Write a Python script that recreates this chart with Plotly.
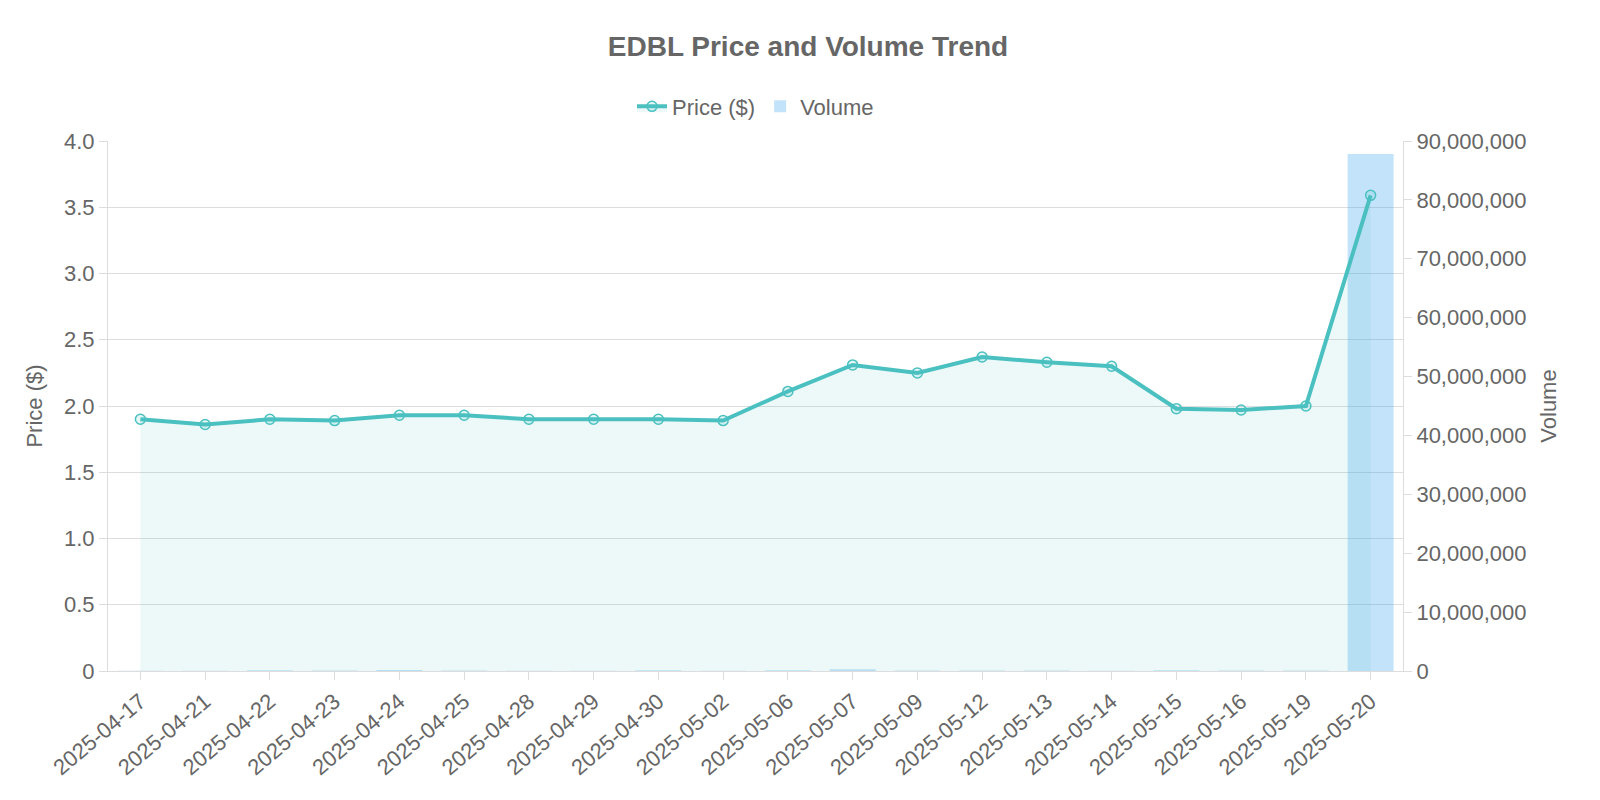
import plotly.graph_objects as go

dates = ["2025-04-17","2025-04-21","2025-04-22","2025-04-23","2025-04-24","2025-04-25","2025-04-28","2025-04-29","2025-04-30","2025-05-02","2025-05-06","2025-05-07","2025-05-09","2025-05-12","2025-05-13","2025-05-14","2025-05-15","2025-05-16","2025-05-19","2025-05-20"]
price = [1.90,1.86,1.90,1.89,1.93,1.93,1.90,1.90,1.90,1.89,2.11,2.31,2.25,2.37,2.33,2.30,1.98,1.97,2.00,3.59]
volume = [60000,50000,120000,70000,150000,80000,60000,50000,110000,60000,130000,300000,90000,100000,70000,60000,120000,80000,90000,87800000]

font = dict(family="Liberation Sans, Arial, sans-serif", color="#666", size=22)
fig = go.Figure()
fig.add_bar(x=dates, y=volume, name="Volume", yaxis="y", width=0.71,
            marker=dict(color="rgba(54,162,235,0.3)", line=dict(width=0)))
fig.add_scatter(x=dates, y=price, name="Price ($)", yaxis="y2", mode="lines+markers",
                fill="tozeroy", fillcolor="rgba(75,192,192,0.1)",
                line=dict(color="rgb(75,192,192)", width=4),
                marker=dict(size=10, color="rgba(75,192,192,0.15)", line=dict(color="rgb(75,192,192)", width=1.5)))
fig.update_layout(
    width=1600, height=800, template="plotly_white", font=font,
    plot_bgcolor="white", paper_bgcolor="white",
    title=dict(text="<b>EDBL Price and Volume Trend</b>", x=0.5, y=0.952, yref="container", yanchor="middle", xanchor="center", font=dict(size=28, color="#666")),
    margin=dict(l=100, r=205, t=133, b=137),
    showlegend=True, legend=dict(orientation="h", x=0.5, xanchor="center", y=1.065, yanchor="middle", traceorder="reversed", font=dict(size=22)),
    xaxis=dict(type="category", tickangle=-40, showgrid=False, showline=True, linecolor="#ddd", ticks="outside", tickcolor="#ddd", ticklen=8, tickfont=dict(size=22)),
    yaxis=dict(side="right", range=[0, 90000000], dtick=10000000, tickformat=",d", showgrid=False, title=dict(text="Volume", font=dict(size=22)), showline=True, linecolor="#ddd", ticks="outside", tickcolor="#ddd", ticklen=8, zeroline=False),
    yaxis2=dict(side="left", overlaying="y", range=[0, 4], showgrid=True, gridcolor="#ddd", title=dict(text="Price ($)", font=dict(size=22)), showline=True, linecolor="#ddd", ticks="outside", tickcolor="#ddd", ticklen=8, zeroline=False,
                tickvals=[0,0.5,1,1.5,2,2.5,3,3.5,4], ticktext=["0","0.5","1.0","1.5","2.0","2.5","3.0","3.5","4.0"]),
)
fig.write_html("out.html")
